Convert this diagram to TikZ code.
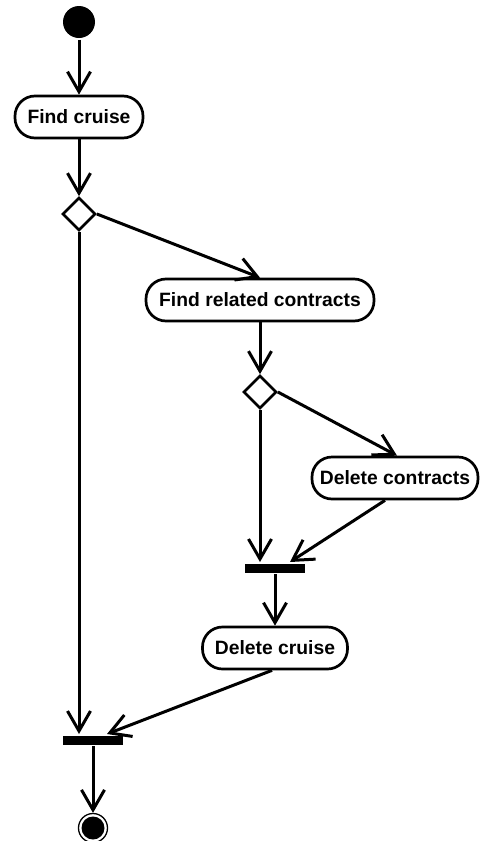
\documentclass[tikz,border=0pt]{standalone}
\usepackage{fontspec}
\setmainfont{Liberation Sans}
\usetikzlibrary{arrows.meta,shapes.geometric}
\begin{document}
\begin{tikzpicture}[x=1pt,y=-1pt,
  line width=3pt,
  flow/.style={-{Straight Barb[length=20pt,width=23pt,line width=3pt]}},
  action/.style={draw,line width=2.7pt,rounded corners=20pt,fill=white,
    minimum height=42pt,inner sep=0pt,
    font=\fontsize{19.3}{21}\selectfont\bfseries},
  choice/.style={diamond,draw,line width=2.7pt,fill=white,
    minimum width=33pt,minimum height=33pt,inner sep=0pt},
  syncbar/.style={rectangle,fill=black,minimum width=60pt,minimum height=9pt,inner sep=0pt},
  initial/.style={circle,fill=black,minimum size=32pt,inner sep=0pt},
  final/.style={circle,draw,line width=1.3pt,minimum size=29pt,inner sep=0pt,
    path picture={\fill (path picture bounding box.center) circle (11.5pt);}}
]
\useasboundingbox (0,0) rectangle (480,841);

% nodes
\node[initial] (start) at (79,22) {};
\node[action,minimum width=128pt] (find) at (79,117) {Find cruise};
\node[choice] (d1) at (79,214) {};
\node[action,minimum width=228pt] (frc) at (260,300) {Find related contracts};
\node[choice] (d2) at (260,392) {};
\node[action,minimum width=166pt] (dc) at (395,478) {Delete contracts};
\node[syncbar] (bar1) at (275,568) {};
\node[action,minimum width=145pt] (dcr) at (275,648) {Delete cruise};
\node[syncbar] (bar2) at (93,740) {};
\node[final] (stop) at (93,828) {};

% connectors
\draw[flow] (start) -- (find);
\draw[flow] (find) -- (d1.north);
\draw[flow] (d1.east) -- (frc.north);
\draw[flow] (frc) -- (d2.north);
\draw[flow] (d2.east) -- ([xshift=2pt]dc.north);
\draw[flow] (d2.south) -- (d2.south |- bar1.north);
\draw[flow] ([xshift=-10pt]dc.south) -- ([xshift=15pt]bar1.north);
\draw[flow] (bar1) -- (dcr.north);
\draw[flow] ([xshift=-3pt]dcr.south) -- ([xshift=14pt]bar2.north);
\draw[flow] (d1.south) -- (d1.south |- bar2.north);
\draw[flow] (bar2) -- (stop);
\end{tikzpicture}
\end{document}
